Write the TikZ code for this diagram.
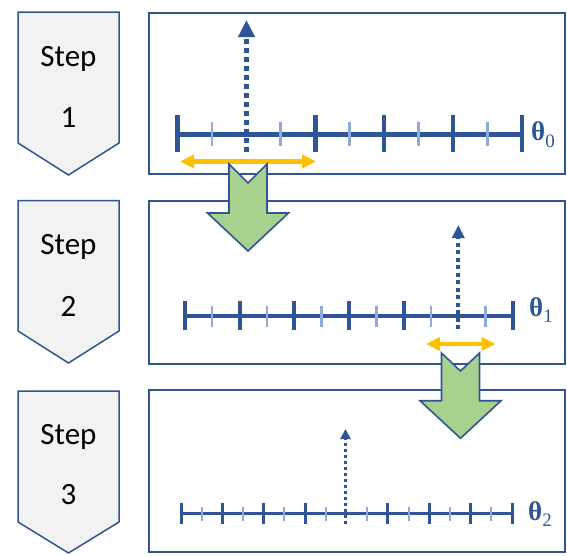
\documentclass[tikz,border=0pt]{standalone}
\usepackage{fontspec}
\newfontfamily\calib{Carlito}
\newfontfamily\tser{Liberation Serif}
\usetikzlibrary{arrows.meta}
\definecolor{dblue}{HTML}{2F5597}
\definecolor{lblue}{HTML}{8FAADC}
\definecolor{gold}{HTML}{FFC000}
\definecolor{lgreen}{HTML}{A9D18E}
\definecolor{lgray}{HTML}{F2F2F2}
\newcommand{\thlabel}[1]{{\bfseries θ}\raisebox{-0.25em}{\fontsize{19}{19}\selectfont #1}}
\tikzset{
  pent/.style={draw=dblue, fill=lgray, line width=1.5pt, line join=miter},
  frame/.style={draw=dblue, line width=2.2pt},
  steptext/.style={font=\calib\fontsize{31}{36}\selectfont, text=black, inner sep=0pt},
  thetatext/.style={font=\tser\fontsize{27}{30}\selectfont, text=dblue, anchor=west, inner sep=0pt},
  greenarrow/.style={draw=dblue, fill=lgreen, line width=1.6pt, line join=miter},
  goldarrow/.style={draw=gold, line width=#1, {Triangle[length=14pt,width=13pt]}-{Triangle[length=14pt,width=13pt]}},
}
\begin{document}
\begin{tikzpicture}[x=1pt,y=-1pt]
\useasboundingbox (0,0) rectangle (567,555);
% step pentagons
\draw[pent] (18,12) -- (119,12) -- (119,143) -- (68.5,175) -- (18,143) -- cycle;
\draw[pent] (18,200.7) -- (119,200.7) -- (119,331) -- (68.5,363) -- (18,331) -- cycle;
\draw[pent] (18,391) -- (119,391) -- (119,522) -- (68.5,553) -- (18,522) -- cycle;
\node[steptext] (s1) at (68.5,59) {Step};
\node[steptext] (n1) at (68.5,118) {1};
\node[steptext] (s2) at (68.5,247) {Step};
\node[steptext] (n2) at (68.5,306) {2};
\node[steptext] (s3) at (68.5,437) {Step};
\node[steptext] (n3) at (68.5,495) {3};
% frames
\draw[frame] (149,12.7) rectangle (565,174.3);
\draw[frame] (149,200.7) rectangle (565,364);
\draw[frame] (149,390) rectangle (565,552);
% axis 1
\draw[dblue, line width=5pt] (177.5,134) -- (522,134);
\foreach \i in {0,2,3,4,5} {\draw[dblue, line width=4.5pt] ({177.5+68.9*\i},115) -- ({177.5+68.9*\i},152);}
\foreach \i in {0,...,4} {\draw[lblue, line width=2.8pt] ({177.5+68.9*(\i+0.5)},122) -- ({177.5+68.9*(\i+0.5)},146);}
\coordinate (b1) at (246.5,152);
\coordinate (t1) at (246.5,20);
\draw[dblue, line width=5.5pt, dash pattern=on 5pt off 4pt, -{Triangle[length=17pt,width=16pt]}] (b1) -- (t1);
\coordinate (y1l) at (180,161.5);
\coordinate (y1r) at (316,161.5);
\draw[goldarrow=4.5pt] (y1l) -- (y1r);
\node[thetatext] (th0) at (531,135) {\thlabel{0}};
% axis 2
\draw[dblue, line width=4pt] (184.8,315.7) -- (513,315.7);
\foreach \i in {0,1,2,3,4,6} {\draw[dblue, line width=4pt] ({184.8+54.7*\i},301) -- ({184.8+54.7*\i},330);}
\foreach \i in {0,...,5} {\draw[lblue, line width=2.5pt] ({184.8+54.7*(\i+0.5)},305.5) -- ({184.8+54.7*(\i+0.5)},326.5);}
\coordinate (b2) at (458.3,329);
\coordinate (t2) at (458.3,225);
\draw[dblue, line width=4pt, dash pattern=on 4pt off 3.5pt, -{Triangle[length=13pt,width=12pt]}] (b2) -- (t2);
\coordinate (y2l) at (426,344);
\coordinate (y2r) at (495.6,344);
\draw[goldarrow=4pt] (y2l) -- (y2r);
\node[thetatext] (th1) at (529,310) {\thlabel{1}};
% axis 3
\draw[dblue, line width=3.2pt] (181,513.3) -- (512,513.3);
\foreach \i in {0,1,2,3,5,6,7,8} {\draw[dblue, line width=3pt] ({181+41.375*\i},502.7) -- ({181+41.375*\i},524);}
\foreach \i in {0,...,7} {\draw[lblue, line width=2pt] ({181+41.375*(\i+0.5)},507) -- ({181+41.375*(\i+0.5)},520.5);}
\coordinate (b3) at (345.5,524);
\coordinate (t3) at (345.5,429);
\draw[dblue, line width=3pt, dash pattern=on 3pt off 3pt, -{Triangle[length=10pt,width=10pt]}] (b3) -- (t3);
\node[thetatext] (th2) at (528,514) {\thlabel{2}};
% green arrows
\draw[greenarrow] (229,164) -- (248,183) -- (267,164) -- (267,213) -- (288.5,213) -- (248,251) -- (207.5,213) -- (229,213) -- cycle;
\draw[greenarrow] (441.5,353) -- (460.5,371) -- (479.5,353) -- (479.5,400.7) -- (501,400.7) -- (460.5,438.3) -- (420,400.7) -- (441.5,400.7) -- cycle;
\end{tikzpicture}
\end{document}
